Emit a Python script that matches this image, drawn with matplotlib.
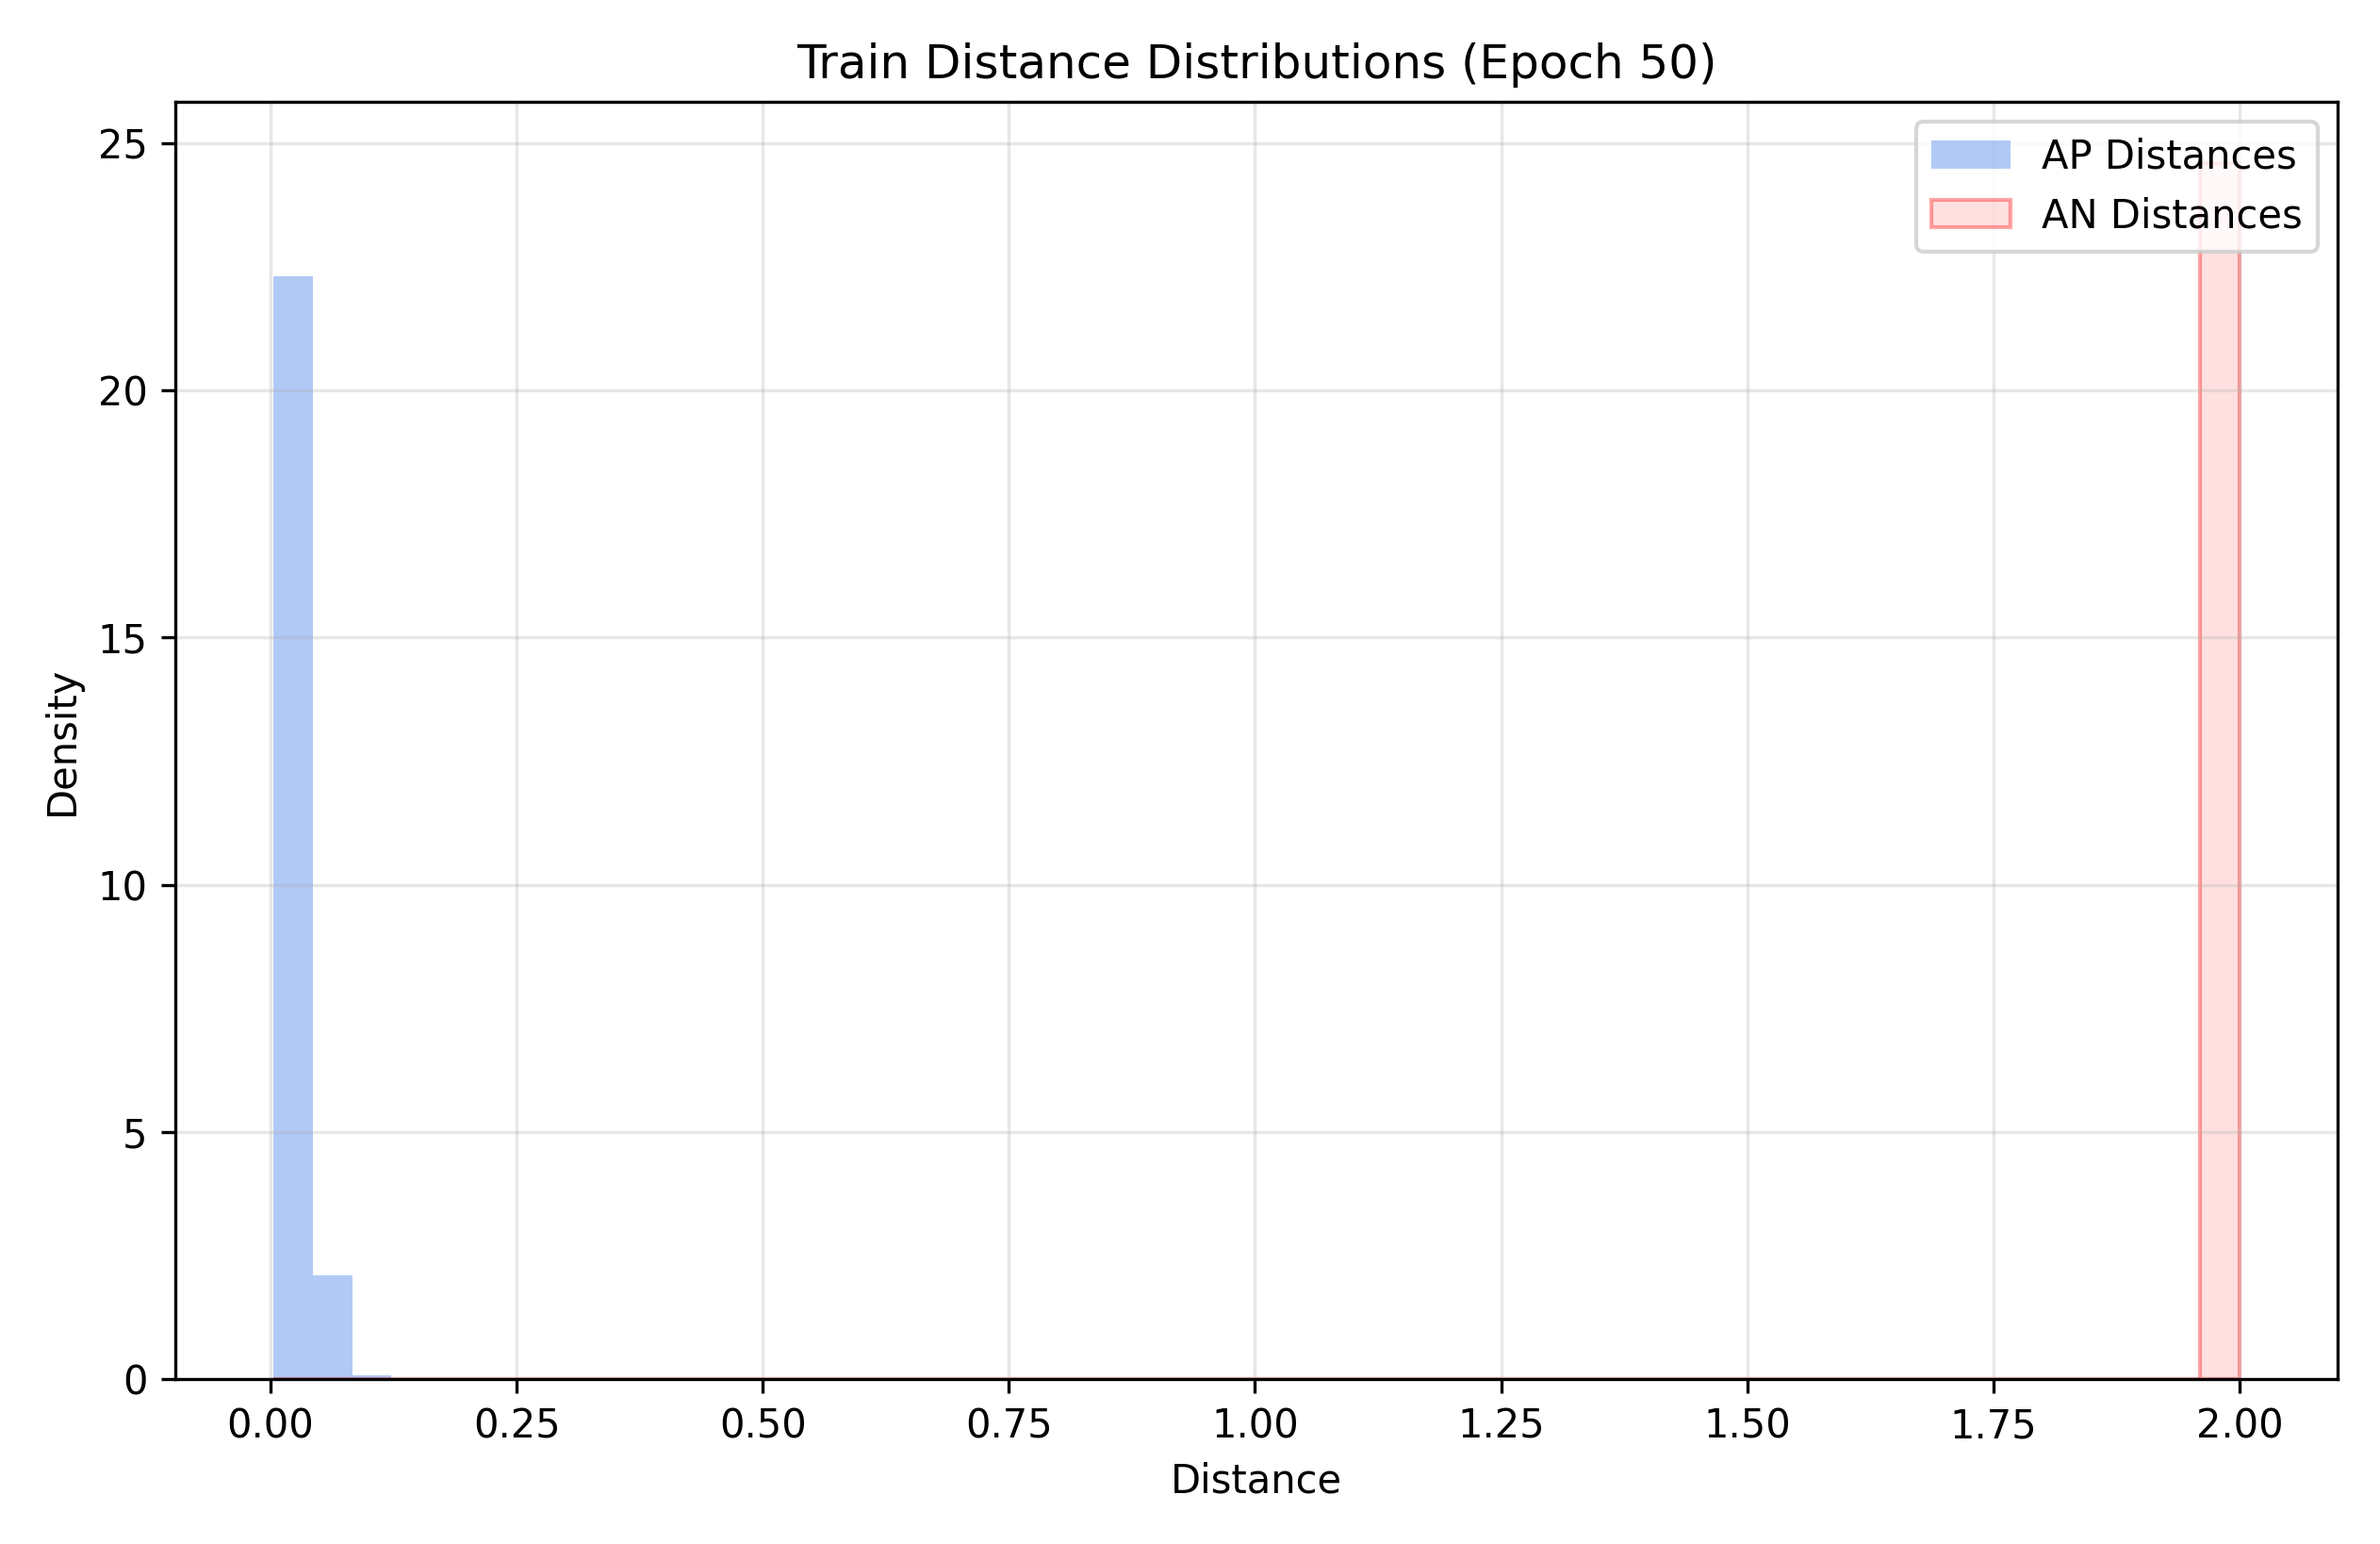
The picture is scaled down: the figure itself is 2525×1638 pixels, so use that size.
import numpy as np
import matplotlib.pyplot as plt

# shared bin edges (50 bins between min and max distance)
edge_lo, edge_hi, n_bins = 0.003, 2.0, 50
ap_density = [22.3, 2.1, 0.08, 0.02, 0.01, 0.005] + [0.0] * 44
an_density = [0.01, 0.01, 0.01, 0.01, 0.01] + [0.005] * 44 + [24.6]

edges = np.linspace(edge_lo, edge_hi, n_bins + 1)
centers = (edges[:-1] + edges[1:]) / 2

fig, ax = plt.subplots(figsize=(8.417, 5.46), dpi=300)
ax.hist(centers, bins=edges, weights=ap_density, color='cornflowerblue',
        alpha=0.5, label='AP Distances')
ax.hist(centers, bins=edges, weights=an_density, facecolor=(1, 0, 0, 0.12),
        edgecolor=(1, 0, 0, 0.35), linewidth=1, label='AN Distances')

ax.set_title('Train Distance Distributions (Epoch 50)')
ax.set_xlabel('Distance')
ax.set_ylabel('Density')
ax.grid(True, alpha=0.3)
ax.legend(loc='upper right')
fig.tight_layout()
fig.savefig('out.png', dpi=300)
